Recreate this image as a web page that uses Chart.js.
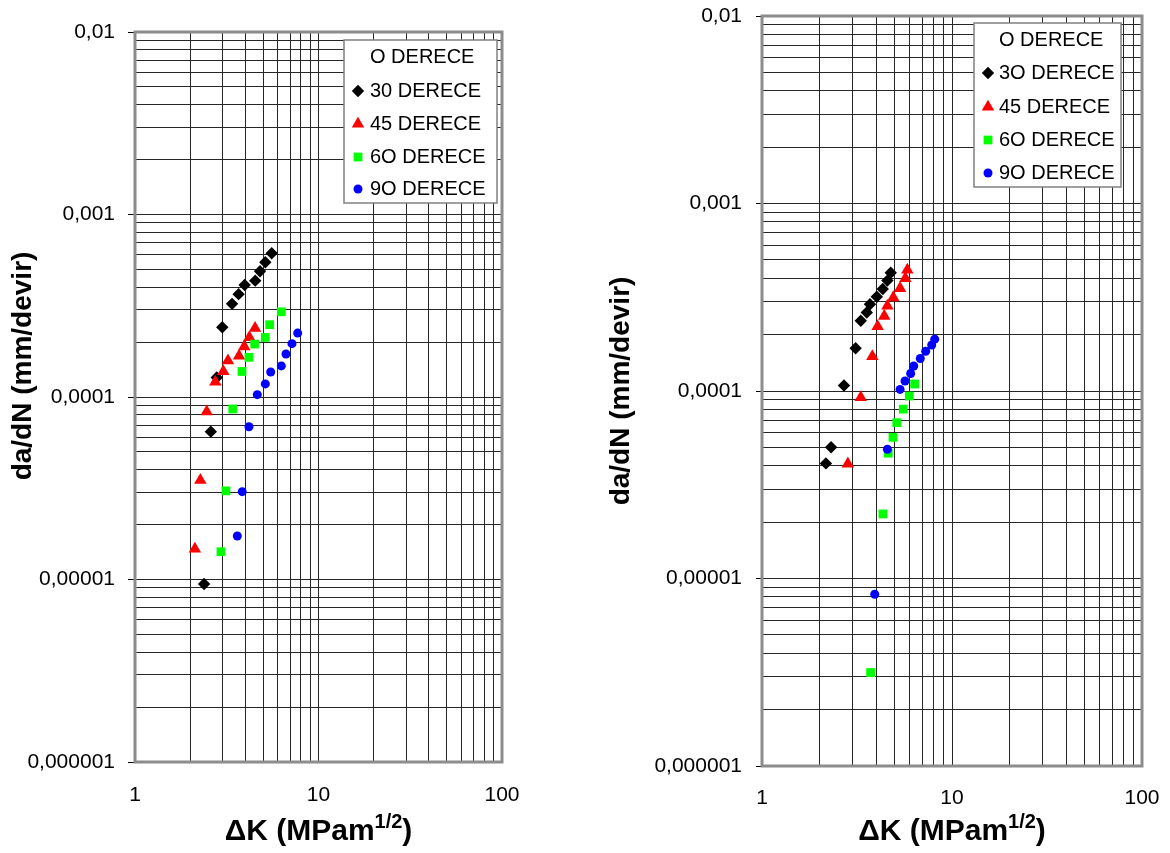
<!DOCTYPE html>
<html>
<head>
<meta charset="utf-8">
<script src="https://cdn.jsdelivr.net/npm/chart.js@4.4.1/dist/chart.umd.min.js"></script>
<style>
  html, body { margin: 0; padding: 0; background: #fff; }
  canvas { position: absolute; top: 0; }
  #leftChart { left: 0; }
  #rightChart { left: 585px; }
</style>
</head>
<body>
<canvas id="leftChart" width="585" height="853"></canvas>
<canvas id="rightChart" width="585" height="853"></canvas>
<script>
// axis ticks
const yTickValues = [1e-6, 1e-5, 1e-4, 1e-3, 1e-2];
const yTickLabels = ["0,000001", "0,00001", "0,0001", "0,001", "0,01"];
const xTickValues = [1, 10, 100];
const xTickLabels = ["1", "10", "100"];

const yTitle = "da/dN (mm/devir)";
const xTitleMain = "\u0394K (MPam";
const xTitleSup = "1/2";
const xTitleEnd = ")";

// left chart series (deltaK, da/dN)
const leftLabels = ["O DERECE", "30 DERECE", "45 DERECE", "6O DERECE", "9O DERECE"];
const leftK30 = [5.56, 5.13, 4.80, 4.52, 3.96, 3.67, 3.38, 2.99, 2.79, 2.59, 2.38];
const leftV30 = [6.13e-4, 5.47e-4, 4.89e-4, 4.34e-4, 4.11e-4, 3.66e-4, 3.24e-4, 2.41e-4, 1.28e-4, 6.46e-5, 9.44e-6];
const leftK45 = [4.51, 4.20, 3.94, 3.69, 3.21, 3.03, 2.74, 2.46, 2.27, 2.12];
const leftV45 = [2.38e-4, 2.12e-4, 1.89e-4, 1.68e-4, 1.58e-4, 1.38e-4, 1.21e-4, 8.3e-5, 3.5e-5, 1.47e-5];
const leftK60 = [6.27, 5.42, 5.13, 4.49, 4.18, 3.83, 3.41, 3.13, 2.94];
const leftV60 = [2.93e-4, 2.49e-4, 2.12e-4, 1.95e-4, 1.65e-4, 1.38e-4, 8.6e-5, 3.06e-5, 1.42e-5];
const leftK90 = [7.70, 7.17, 6.65, 6.27, 5.49, 5.13, 4.64, 4.18, 3.84, 3.61];
const leftV90 = [2.24e-4, 1.96e-4, 1.72e-4, 1.48e-4, 1.37e-4, 1.18e-4, 1.03e-4, 6.87e-5, 3.03e-5, 1.73e-5];

// right chart series
const rightLabels = ["O DERECE", "3O DERECE", "45 DERECE", "6O DERECE", "9O DERECE"];
const rightK30 = [4.76, 4.57, 4.32, 4.02, 3.70, 3.56, 3.31, 3.11, 2.70, 2.31, 2.17];
const rightV30 = [4.27e-4, 3.88e-4, 3.50e-4, 3.18e-4, 2.90e-4, 2.62e-4, 2.37e-4, 1.69e-4, 1.07e-4, 5.01e-5, 4.11e-5];
const rightK45 = [5.82, 5.68, 5.33, 4.91, 4.57, 4.40, 4.06, 3.81, 3.31, 2.83];
const rightV45 = [4.42e-4, 3.99e-4, 3.53e-4, 3.15e-4, 2.84e-4, 2.51e-4, 2.21e-4, 1.53e-4, 9.25e-5, 4.09e-5];
const rightK60 = [6.36, 5.96, 5.54, 5.12, 4.89, 4.62, 4.33, 3.73];
const rightV60 = [1.09e-4, 9.4e-5, 8.0e-5, 6.78e-5, 5.66e-5, 4.66e-5, 2.21e-5, 3.15e-6];
const rightK90 = [8.11, 7.82, 7.27, 6.81, 6.29, 6.06, 5.66, 5.33, 4.57, 3.92];
const rightV90 = [1.89e-4, 1.76e-4, 1.63e-4, 1.49e-4, 1.36e-4, 1.24e-4, 1.13e-4, 1.02e-4, 4.89e-5, 8.24e-6];

const FONT = '"Liberation Sans", Arial, sans-serif';
Chart.defaults.font.family = FONT;
Chart.defaults.color = "#000";

const styles = [
  null,
  { pointStyle: "rectRot", color: "#000000", radius: 6.2, order: 4 },
  { pointStyle: "triangle", color: "#ff0000", radius: 7.2, order: 3 },
  { pointStyle: "rect", color: "#00ff00", radius: 6.2, order: 2 },
  { pointStyle: "circle", color: "#0000ff", radius: 4.5, order: 1 },
];

function pairs(xs, ys) {
  return xs.map((x, i) => ({ x: x, y: ys[i] }));
}

function logTicks(majors) {
  const out = [];
  majors.forEach((m, i) => {
    out.push({ value: m, major: true });
    if (i < majors.length - 1) {
      for (let k = 2; k <= 9; k++) out.push({ value: m * k, major: false });
    }
  });
  return out;
}

function labelFor(values, labels, value) {
  const j = values.findIndex((v) => Math.abs(Math.log10(v) - Math.log10(value)) < 1e-6);
  return j >= 0 ? labels[j] : "";
}

const decor = {
  id: "decor",
  beforeDatasetsDraw(chart) {
    const a = chart.chartArea;
    const ctx = chart.ctx;
    ctx.save();
    ctx.strokeStyle = "#8c8c8c";
    ctx.lineWidth = 3;
    ctx.strokeRect(a.left, a.top, a.right - a.left, a.bottom - a.top);
    ctx.restore();
  },
  afterDatasetsDraw(chart, args, opts) {
    const ctx = chart.ctx;
    const b = opts.box;
    ctx.save();
    // legend box
    ctx.fillStyle = "#fff";
    ctx.fillRect(b.x, b.y, b.w, b.h);
    ctx.strokeStyle = "#808080";
    ctx.lineWidth = 1.5;
    ctx.strokeRect(b.x, b.y, b.w, b.h);
    ctx.font = "20px " + FONT;
    ctx.textAlign = "left";
    ctx.textBaseline = "middle";
    chart.data.datasets.forEach((ds, i) => {
      const y = opts.rowY[i];
      if (ds.pointStyle) {
        ctx.fillStyle = ds.pointBackgroundColor;
        Chart.helpers.drawPoint(ctx, {
          pointStyle: ds.pointStyle,
          radius: ds.pointRadius,
          rotation: 0,
          borderWidth: 0,
        }, opts.markerX, y);
      }
      ctx.fillStyle = "#000";
      ctx.fillText(ds.label, opts.textX, y);
    });

    // y axis title
    ctx.save();
    ctx.translate(opts.yTitle.x, opts.yTitle.y);
    ctx.rotate(-Math.PI / 2);
    ctx.font = "bold 28px " + FONT;
    ctx.textAlign = "center";
    ctx.textBaseline = "middle";
    ctx.fillText(yTitle, 0, 0);
    ctx.restore();

    // x axis title with superscript
    const big = "bold 30px " + FONT;
    const small = "bold 20px " + FONT;
    ctx.textAlign = "left";
    ctx.textBaseline = "alphabetic";
    ctx.font = big;
    const w1 = ctx.measureText(xTitleMain).width;
    const w3 = ctx.measureText(xTitleEnd).width;
    ctx.font = small;
    const w2 = ctx.measureText(xTitleSup).width;
    let x = opts.xTitle.x - (w1 + w2 + w3) / 2;
    const by = opts.xTitle.y;
    ctx.font = big;
    ctx.fillText(xTitleMain, x, by);
    x += w1;
    ctx.font = small;
    ctx.fillText(xTitleSup, x, by - 12);
    x += w2;
    ctx.font = big;
    ctx.fillText(xTitleEnd, x, by);
    ctx.restore();
  },
};

function makeChart(id, labels, series, lay) {
  const datasets = labels.map((label, i) => {
    const st = styles[i];
    if (!st) return { label: label, data: [] };
    return {
      label: label,
      data: pairs(series[i][0], series[i][1]),
      pointStyle: st.pointStyle,
      pointRadius: st.radius,
      pointBackgroundColor: st.color,
      pointBorderWidth: 0,
      showLine: false,
      order: st.order,
    };
  });

  new Chart(document.getElementById(id), {
    type: "scatter",
    data: { datasets },
    plugins: [decor],
    options: {
      responsive: false,
      animation: false,
      events: [],
      layout: { padding: lay.padding },
      plugins: {
        legend: { display: false },
        tooltip: { enabled: false },
        decor: lay.decor,
      },
      scales: {
        x: {
          type: "logarithmic",
          min: 1,
          max: 100,
          border: { display: false },
          grid: { color: "#262626", lineWidth: 1, drawTicks: false },
          ticks: {
            autoSkip: false,
            maxRotation: 0,
            padding: lay.xPad,
            font: { size: 21 },
            callback: (v) => labelFor(xTickValues, xTickLabels, v),
          },
          afterBuildTicks: (scale) => { scale.ticks = logTicks(xTickValues); },
          afterFit: (scale) => {
            scale.height = lay.xHeight;
            scale.paddingLeft = 0;
            scale.paddingRight = 0;
          },
        },
        y: {
          type: "logarithmic",
          min: 1e-6,
          max: 1e-2,
          border: { display: false },
          grid: {
            color: "#262626",
            lineWidth: 1,
            tickLength: lay.tickLen,
            tickColor: (ctx) => (ctx.tick && ctx.tick.major ? "#000" : "rgba(0,0,0,0)"),
          },
          ticks: {
            autoSkip: false,
            padding: lay.yPad,
            font: { size: 21 },
            callback: (v) => labelFor(yTickValues, yTickLabels, v),
          },
          afterBuildTicks: (scale) => { scale.ticks = logTicks(yTickValues); },
          afterFit: (scale) => {
            scale.width = lay.yWidth;
            scale.paddingTop = 0;
            scale.paddingBottom = 0;
          },
        },
      },
    },
  });
}

makeChart("leftChart", leftLabels,
  [null, [leftK30, leftV30], [leftK45, leftV45], [leftK60, leftV60], [leftK90, leftV90]],
  {
    padding: { left: 0, top: 32, right: 83, bottom: 0 },
    yWidth: 135, xHeight: 91, tickLen: 7, yPad: 13, xPad: 21,
    decor: {
      box: { x: 344, y: 40, w: 153, h: 163 },
      rowY: [57, 91, 124, 157, 189],
      markerX: 358, textX: 370,
      yTitle: { x: 23.5, y: 366 },
      xTitle: { x: 318.5, y: 840 },
    },
  });

makeChart("rightChart", rightLabels,
  [null, [rightK30, rightV30], [rightK45, rightV45], [rightK60, rightV60], [rightK90, rightV90]],
  {
    padding: { left: 0, top: 16, right: 28, bottom: 0 },
    yWidth: 177, xHeight: 87, tickLen: 6, yPad: 14, xPad: 20,
    decor: {
      box: { x: 389, y: 23, w: 147, h: 164 },
      rowY: [40, 73, 107, 140, 173],
      markerX: 403, textX: 414,
      yTitle: { x: 36.5, y: 391 },
      xTitle: { x: 367, y: 840 },
    },
  });
</script>
</body>
</html>
